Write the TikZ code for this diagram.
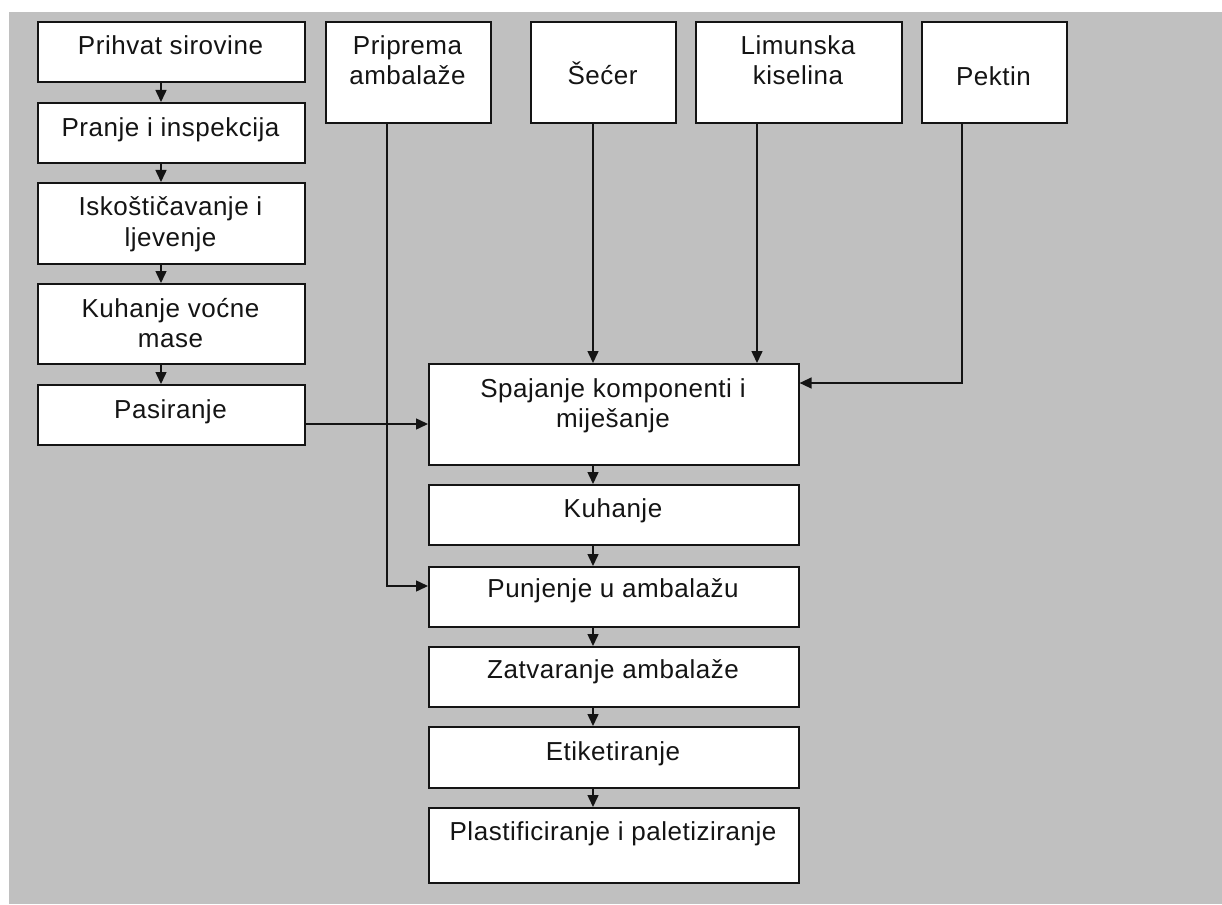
\documentclass[tikz,border=0pt]{standalone}
\usepackage{fontspec}
\setmainfont{Liberation Sans}[LetterSpace=2]
\usetikzlibrary{arrows.meta}
\definecolor{bggray}{RGB}{192,192,192}
\definecolor{ink}{RGB}{20,20,20}
\begin{document}
\begin{tikzpicture}[x=1pt,y=-1pt,
  box/.style={draw=ink, line width=1.6pt, fill=white, inner sep=0pt, anchor=north west},
  txt/.style={anchor=base, inner sep=0pt, font=\fontsize{26}{30}\selectfont, text=ink},
  arr/.style={draw=ink, line width=1.5pt, -{Triangle[length=12pt,width=11pt]}}]
\useasboundingbox (0,0) rectangle (1222,904);
\fill[bggray] (9,12) rectangle (1222,904);
% left column
\node[box, minimum width=267pt, minimum height=60pt] (b1) at (37,21) {};
\node[box, minimum width=267pt, minimum height=60pt] (b2) at (37,102) {};
\node[box, minimum width=267pt, minimum height=81pt] (b3) at (37,182) {};
\node[box, minimum width=267pt, minimum height=80pt] (b4) at (37,283) {};
\node[box, minimum width=267pt, minimum height=60pt] (b5) at (37,384) {};
% top row
\node[box, minimum width=165pt, minimum height=101pt] (pri) at (325,21) {};
\node[box, minimum width=145pt, minimum height=101pt] (sec) at (530,21) {};
\node[box, minimum width=206pt, minimum height=101pt] (lim) at (695,21) {};
\node[box, minimum width=145pt, minimum height=101pt] (pek) at (921,21) {};
% right column
\node[box, minimum width=370pt, minimum height=101pt] (spa) at (428,363) {};
\node[box, minimum width=370pt, minimum height=60pt] (kuh) at (428,484) {};
\node[box, minimum width=370pt, minimum height=60pt] (pun) at (428,566) {};
\node[box, minimum width=370pt, minimum height=60pt] (zat) at (428,646) {};
\node[box, minimum width=370pt, minimum height=61pt] (eti) at (428,726) {};
\node[box, minimum width=370pt, minimum height=75pt] (pla) at (428,807) {};
% texts
\node[txt] (t1) at (170.5,55) {Prihvat sirovine};
\node[txt] (t2) at (170.5,137) {Pranje i inspekcija};
\node[txt] (t3a) at (170.5,215) {Iskoštičavanje i};
\node[txt] (t3b) at (170.5,246) {ljevenje};
\node[txt] (t4a) at (170.5,317) {Kuhanje voćne};
\node[txt] (t4b) at (170.5,347) {mase};
\node[txt] (t5) at (170.5,418) {Pasiranje};
\node[txt] (tpa) at (407.5,55) {Priprema};
\node[txt] (tpb) at (407.5,85) {ambalaže};
\node[txt] (ts) at (602.5,85) {Šećer};
\node[txt] (tla) at (798,55) {Limunska};
\node[txt] (tlb) at (798,85) {kiselina};
\node[txt] (tk) at (993.5,86) {Pektin};
\node[txt] (tsa) at (613,397) {Spajanje komponenti i};
\node[txt] (tsb) at (613,427) {miješanje};
\node[txt] (tku) at (613,517) {Kuhanje};
\node[txt] (tpu) at (613,597) {Punjenje u ambalažu};
\node[txt] (tza) at (613,678) {Zatvaranje ambalaže};
\node[txt] (tet) at (613,760) {Etiketiranje};
\node[txt] (tpl) at (613,840) {Plastificiranje i paletiziranje};
% connector coordinates
\coordinate (cl) at (161,0);
\coordinate (cr) at (593,0);
\coordinate (cx) at (757,0);
\coordinate (cp) at (962,383);
\coordinate (cq) at (387,586);
\coordinate (cs) at (0,424);
% connectors
\draw[arr] (b1.south -| cl) -- (b2.north -| cl);
\draw[arr] (b2.south -| cl) -- (b3.north -| cl);
\draw[arr] (b3.south -| cl) -- (b4.north -| cl);
\draw[arr] (b4.south -| cl) -- (b5.north -| cl);
\draw[arr] (b5.east |- cs) -- (spa.west |- cs);
\draw[arr] (pri.south -| cq) |- (pun.west |- cq);
\draw[arr] (sec.south -| cr) -- (spa.north -| cr);
\draw[arr] (lim.south -| cx) -- (spa.north -| cx);
\draw[arr] (pek.south -| cp) |- (spa.east |- cp);
\draw[arr] (spa.south -| cr) -- (kuh.north -| cr);
\draw[arr] (kuh.south -| cr) -- (pun.north -| cr);
\draw[arr] (pun.south -| cr) -- (zat.north -| cr);
\draw[arr] (zat.south -| cr) -- (eti.north -| cr);
\draw[arr] (eti.south -| cr) -- (pla.north -| cr);
\end{tikzpicture}
\end{document}
